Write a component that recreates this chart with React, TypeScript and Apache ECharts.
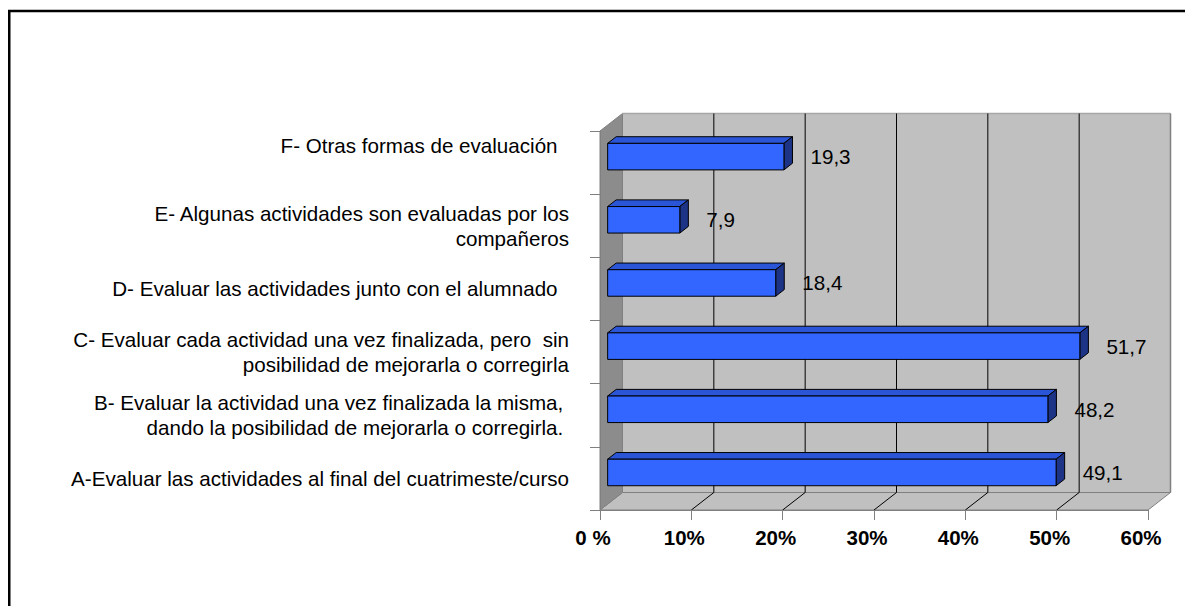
import React, { useEffect, useRef } from "react";
import * as echarts from "echarts";

const categories: string[] = [
  "A-Evaluar las actividades al final del cuatrimeste/curso",
  "B- Evaluar la actividad una vez finalizada la misma, \ndando la posibilidad de mejorarla o corregirla. ",
  "C- Evaluar cada actividad una vez finalizada, pero  sin\nposibilidad de mejorarla o corregirla",
  "D- Evaluar las actividades junto con el alumnado  ",
  "E- Algunas actividades son evaluadas por los\ncompañeros",
  "F- Otras formas de evaluación  ",
];
const values: number[] = [49.1, 48.2, 51.7, 18.4, 7.9, 19.3];
const xTicks: number[] = [0, 10, 20, 30, 40, 50, 60];
const xTickLabels: string[] = ["0 %", "10%", "20%", "30%", "40%", "50%", "60%"];

const FONT = "'Liberation Sans', Arial, sans-serif";
const LABEL_SIZE = 20.6;
const DX = 22.5;
const DY = 17.5;
const F1 = 0.34;
const F2 = 0.72;

export default function App() {
  const ref = useRef<HTMLDivElement>(null);
  useEffect(() => {
    if (!ref.current) return;
    const chart = echarts.init(ref.current, null, { renderer: "svg" });
    const labelStyle = {
      fontSize: LABEL_SIZE,
      lineHeight: 25,
      fontFamily: FONT,
      color: "#000000",
      align: "right",
    };
    const option: any = {
      animation: false,
      backgroundColor: "#ffffff",
      graphic: [
        {
          type: "polyline",
          silent: true,
          shape: { points: [[9.25, 800], [9.25, 11], [1400, 11]] },
          style: { fill: "none", stroke: "#000000", lineWidth: 2.5 },
        },
      ],
      grid: { left: 600, top: 131, width: 548, height: 379, containLabel: false },
      xAxis: {
        type: "value",
        min: 0,
        max: 60,
        interval: 10,
        z: 5,
        axisLine: { show: true, lineStyle: { color: "#808080", width: 1 } },
        axisTick: { show: true, length: 10, lineStyle: { color: "#808080" } },
        splitLine: { show: false },
        axisLabel: {
          margin: 17,
          fontSize: 20.5,
          fontWeight: "bold",
          fontFamily: FONT,
          color: "#000000",
          padding: [0, 14, 0, 0],
          formatter: (v: number) => xTickLabels[xTicks.indexOf(v)] ?? "",
        },
      },
      yAxis: {
        type: "category",
        data: categories,
        z: 5,
        axisLine: { show: true, lineStyle: { color: "#808080", width: 1 } },
        axisTick: { show: true, length: 10, lineStyle: { color: "#808080" } },
        splitLine: { show: false },
        axisLabel: {
          margin: 31,
          ...labelStyle,
          formatter: (value: string, index: number) =>
            index === categories.length - 1 ? `{up|${value}}` : value,
          rich: {
            up: { ...labelStyle, padding: [0, 0, 34, 0] },
          },
        },
      },
      series: [
        {
          type: "custom",
          z: 1,
          silent: true,
          data: [[0, 0]],
          encode: { x: 0, y: 1 },
          renderItem: (params: any, api: any) => {
            const cs = params.coordSys;
            const left = cs.x;
            const top = cs.y;
            const right = cs.x + cs.width;
            const bottom = cs.y + cs.height;
            const children: any[] = [];
            children.push({
              type: "rect",
              shape: { x: left + DX, y: top - DY, width: cs.width, height: cs.height },
              style: { fill: "#c0c0c0", stroke: "none" },
            });
            children.push({
              type: "polygon",
              shape: {
                points: [
                  [left, bottom],
                  [left + DX, bottom - DY],
                  [right + DX, bottom - DY],
                  [right, bottom],
                ],
              },
              style: { fill: "#c0c0c0", stroke: "#808080", lineWidth: 1 },
            });
            children.push({
              type: "polygon",
              shape: {
                points: [
                  [left, top],
                  [left + DX, top - DY],
                  [left + DX, bottom - DY],
                  [left, bottom],
                ],
              },
              style: { fill: "#8c8c8c", stroke: "#808080", lineWidth: 1 },
            });
            children.push({
              type: "line",
              shape: { x1: left + DX, y1: top - DY, x2: right + DX, y2: top - DY },
              style: { stroke: "#a6a6a6", lineWidth: 1.5 },
            });
            children.push({
              type: "line",
              shape: { x1: right + DX, y1: top - DY, x2: right + DX, y2: bottom - DY },
              style: { stroke: "#808080", lineWidth: 1.5 },
            });
            xTicks.forEach((t) => {
              if (t === xTicks[0] || t === xTicks[xTicks.length - 1]) return;
              const px = api.coord([t, 0])[0];
              children.push({
                type: "line",
                shape: { x1: px + DX, y1: top - DY, x2: px + DX, y2: bottom - DY },
                style: { stroke: "#000000", lineWidth: 1 },
              });
              children.push({
                type: "line",
                shape: { x1: px, y1: bottom, x2: px + DX, y2: bottom - DY },
                style: { stroke: "#000000", lineWidth: 1 },
              });
            });
            return { type: "group", children };
          },
        },
        {
          type: "custom",
          z: 3,
          data: values.map((v, i) => [v, i]),
          encode: { x: 0, y: 1 },
          renderItem: (params: any, api: any) => {
            const v = api.value(0);
            const i = api.value(1);
            const p0 = api.coord([0, i]);
            const p1 = api.coord([v, i]);
            const bh = api.size([0, 1])[1] * 0.42;
            const x0 = p0[0] + F1 * DX;
            const x1 = p1[0] + F1 * DX;
            const yc = p0[1] - F1 * DY;
            const yt = yc - bh / 2;
            const yb = yc + bh / 2;
            const dx = (F2 - F1) * DX;
            const dy = (F2 - F1) * DY;
            const stroke = { stroke: "#000000", lineWidth: 1, lineJoin: "round" };
            return {
              type: "group",
              children: [
                {
                  type: "polygon",
                  shape: { points: [[x0, yt], [x1, yt], [x1 + dx, yt - dy], [x0 + dx, yt - dy]] },
                  style: { fill: "#2a55d6", ...stroke },
                },
                {
                  type: "polygon",
                  shape: { points: [[x1, yt], [x1 + dx, yt - dy], [x1 + dx, yb - dy], [x1, yb]] },
                  style: { fill: "#1c3386", ...stroke },
                },
                {
                  type: "rect",
                  shape: { x: x0, y: yt, width: x1 - x0, height: bh },
                  style: { fill: "#3366ff", ...stroke },
                },
                {
                  type: "text",
                  x: x1 + dx + 18,
                  y: yc,
                  style: {
                    text: String(v).replace(".", ","),
                    fill: "#000000",
                    fontSize: LABEL_SIZE,
                    fontFamily: FONT,
                    align: "left",
                    verticalAlign: "middle",
                  },
                },
              ],
            };
          },
        },
      ],
    };
    chart.setOption(option);
    return () => chart.dispose();
  }, []);
  return (
    <div
      ref={ref}
      style={{ position: "fixed", left: 0, top: 0, width: 1185, height: 606, background: "#fff" }}
    />
  );
}
